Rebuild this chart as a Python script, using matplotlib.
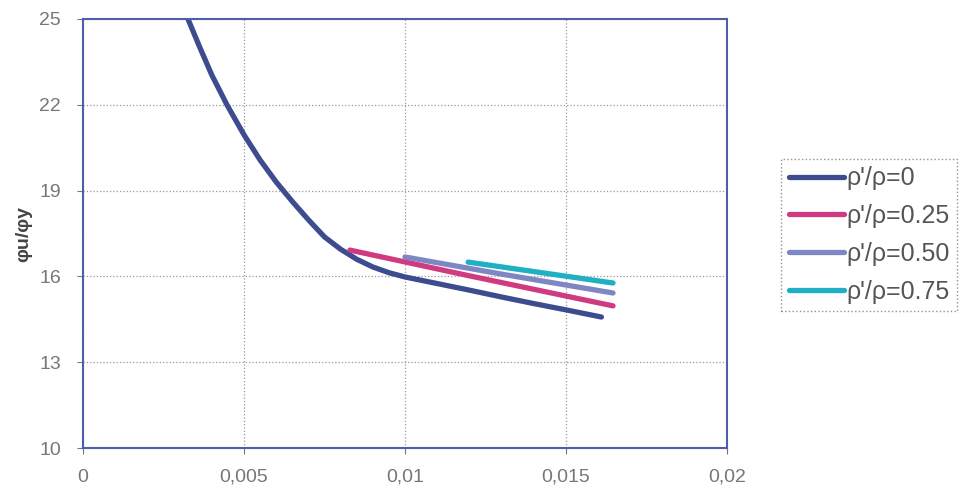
import matplotlib.pyplot as plt
from matplotlib.ticker import FuncFormatter

plt.rcParams['font.family'] = ['Liberation Sans', 'DejaVu Sans']

# Data
x_r0 = [0.00326, 0.0036, 0.0040, 0.00447, 0.0050, 0.0055, 0.0060, 0.0065, 0.0070, 0.0075,
        0.0080, 0.0085, 0.0090, 0.0095, 0.0100, 0.0110, 0.0120, 0.0130, 0.0140, 0.0150, 0.0161]
y_r0 = [25.0, 24.08, 23.04, 22.0, 20.95, 20.07, 19.3, 18.62, 17.98, 17.38,
        16.95, 16.6, 16.33, 16.13, 15.98, 15.75, 15.52, 15.28, 15.05, 14.83, 14.58]
x_r25 = [0.00829, 0.0120, 0.01646]
y_r25 = [16.92, 16.02, 14.97]
x_r50 = [0.0100, 0.0130, 0.01646]
y_r50 = [16.68, 16.08, 15.42]
x_r75 = [0.01196, 0.0140, 0.01646]
y_r75 = [16.50, 16.17, 15.77]

labels = ["ρ'/ρ=0", "ρ'/ρ=0.25", "ρ'/ρ=0.50", "ρ'/ρ=0.75"]
colors = ['#3d4b8f', '#d03a80', '#7f86c4', '#1fb0c4']

fig = plt.figure(figsize=(9.62, 4.92), dpi=100)
ax = fig.add_axes([0.0863, 0.0894, 0.6694, 0.872])

series = [(x_r0, y_r0), (x_r25, y_r25), (x_r50, y_r50), (x_r75, y_r75)]
for (xs, ys), lab, col in zip(series, labels, colors):
    ax.plot(xs, ys, color=col, linewidth=3.8, label=lab,
            solid_capstyle='round', solid_joinstyle='round')

ax.set_xlim(0, 0.02)
ax.set_ylim(10, 25)
ax.set_xticks([0, 0.005, 0.01, 0.015, 0.02])
ax.set_yticks([10, 13, 16, 19, 22, 25])
ax.xaxis.set_major_formatter(FuncFormatter(lambda v, p: '0' if v == 0 else ('%g' % v).replace('.', ',')))
ax.grid(True, color='#999999', linestyle=':', linewidth=0.9)
ax.tick_params(colors='#777777', labelsize=14, length=4)
ax.tick_params(axis='x', pad=11)
ax.tick_params(axis='y', pad=12)
for s in ax.spines.values():
    s.set_color('#4f5ea8')
    s.set_linewidth(1.5)

ax.set_ylabel('φu/φy', fontsize=14, fontweight='bold', color='#444444', labelpad=5)

leg = ax.legend(loc='upper left', bbox_to_anchor=(1.084, 0.674), fontsize=18,
                frameon=True, fancybox=False, handlelength=2.2, handletextpad=0.1,
                borderpad=0.3, borderaxespad=0, labelspacing=0.55)
leg.get_frame().set_edgecolor('#777777')
leg.get_frame().set_linestyle(':')
for t in leg.get_texts():
    t.set_color('#555555')

fig.savefig('out.png', dpi=100)
